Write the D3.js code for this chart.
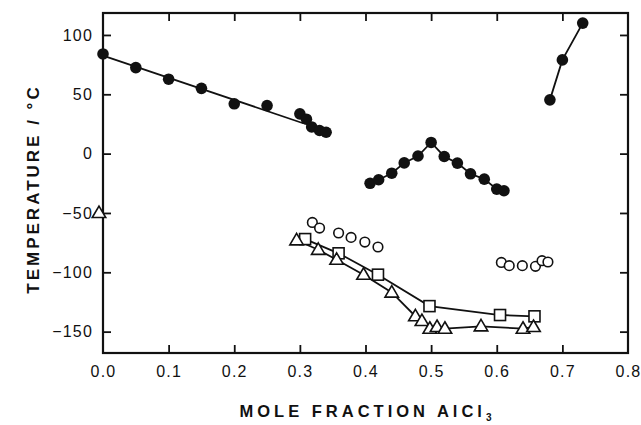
<!DOCTYPE html>
<html>
<head>
<meta charset="utf-8">
<script src="https://cdn.jsdelivr.net/npm/d3@7/dist/d3.min.js"></script>
<style>
  html, body { margin: 0; padding: 0; background: #fff; }
  svg { display: block; }
</style>
</head>
<body>
<svg id="chart" width="641" height="425"></svg>
<script>
// ---- data ----
const xTicks = [0.0, 0.1, 0.2, 0.3, 0.4, 0.5, 0.6, 0.7, 0.8];
const yTicks = [100, 50, 0, -50, -100, -150];

// filled circles, low-x branch (with fitted straight line)
const solidA_x = [0.0, 0.05, 0.10, 0.15, 0.20, 0.25, 0.30, 0.31, 0.318, 0.33, 0.34];
const solidA_y = [84, 72.5, 62.7, 55, 42, 40.5, 33.5, 29, 22.5, 19.5, 18];
const fitA_x = [0.0, 0.305];
const fitA_y = [82.6, 25.6];

// filled circles, middle (peaked) branch, connected
const solidB_x = [0.407, 0.42, 0.44, 0.459, 0.48, 0.50, 0.52, 0.54, 0.56, 0.581, 0.60, 0.611];
const solidB_y = [-25, -22, -16.5, -7.8, -2, 9.4, -2.4, -8, -17, -21.5, -29.9, -31.3];

// filled circles, high-x branch, connected
const solidC_x = [0.681, 0.70, 0.731];
const solidC_y = [45.3, 79, 110];

// open circles (not connected)
const openCirc_x = [0.319, 0.33, 0.359, 0.378, 0.399, 0.419, 0.607, 0.619, 0.639, 0.659, 0.669, 0.678];
const openCirc_y = [-58, -62.7, -66.9, -70.6, -74.5, -78.7, -91.7, -94.4, -94.4, -95, -90.2, -91.3];

// open squares, connected
const square_x = [0.308, 0.359, 0.419, 0.4975, 0.605, 0.6575];
const square_y = [-72, -84, -102, -128.5, -136, -137.1];

// open triangles, connected
const tri_x = [0.295, 0.328, 0.356, 0.397, 0.44, 0.476, 0.486, 0.498, 0.509, 0.521, 0.576, 0.64, 0.656];
const tri_y = [-73, -81, -89.4, -102, -117, -137, -141, -147.5, -146, -147.5, -145.5, -147.5, -146];

// isolated open triangle on the axis
const triSingle_x = [0.0];
const triSingle_y = [-50];

// ---- drawing ----
const svg = d3.select("#chart");
const L = 103, R = 628, T = 13, B = 353;
const x = d3.scaleLinear().domain([0, 0.8]).range([L, R]);
const y = d3.scaleLinear().domain([-168, 118.5]).range([B, T]);
const ink = "#111";
const font = "'Liberation Sans', Arial, Helvetica, sans-serif";

const zip = (xs, ys) => xs.map((v, i) => [v, ys[i]]);
const line = d3.line().x(d => x(d[0])).y(d => y(d[1]));

// axes (ticks pointing inward)
const gB = svg.append("g").attr("transform", `translate(0,${B})`)
  .call(d3.axisBottom(x).tickValues(xTicks).tickSize(-8).tickSizeOuter(0).tickPadding(13).tickFormat(d3.format(".1f")));
const gT = svg.append("g").attr("transform", `translate(0,${T})`)
  .call(d3.axisTop(x).tickValues(xTicks.slice(1, -1)).tickSize(-8).tickSizeOuter(0).tickFormat(""));
const gL = svg.append("g").attr("transform", `translate(${L},0)`)
  .call(d3.axisLeft(y).tickValues(yTicks).tickSize(-8).tickSizeOuter(0).tickPadding(10));
const gR = svg.append("g").attr("transform", `translate(${R},0)`)
  .call(d3.axisRight(y).tickValues(yTicks).tickSize(-8).tickSizeOuter(0).tickFormat(""));
gB.selectAll(".tick line").filter(d => d === 0 || d === 0.8).remove();
[gB, gT, gL, gR].forEach(g => {
  g.select(".domain").remove();
  g.selectAll(".tick line").attr("stroke", ink).attr("stroke-width", 1.8);
  g.selectAll(".tick text").attr("fill", ink).attr("font-family", font).attr("font-size", 16)
    .attr("letter-spacing", 1.2);
});
gL.selectAll(".tick text").text(d => d < 0 ? "\u2212" + Math.abs(d) : d);

// frame
svg.append("rect").attr("x", L).attr("y", T).attr("width", R - L).attr("height", B - T)
  .attr("fill", "none").attr("stroke", ink).attr("stroke-width", 2.2);

// lines
const lineStyle = sel => sel.attr("fill", "none").attr("stroke", ink).attr("stroke-width", 1.8);
svg.append("path").datum(zip(fitA_x, fitA_y)).attr("d", line).call(lineStyle);
svg.append("path").datum(zip(solidB_x, solidB_y)).attr("d", line).call(lineStyle);
svg.append("path").datum(zip(solidC_x, solidC_y)).attr("d", line).call(lineStyle);
svg.append("path").datum(zip(tri_x, tri_y)).attr("d", line).call(lineStyle);
svg.append("path").datum(zip(square_x, square_y)).attr("d", line).call(lineStyle);

// markers
const filled = zip(solidA_x, solidA_y).concat(zip(solidB_x, solidB_y), zip(solidC_x, solidC_y));
svg.append("g").selectAll("circle").data(filled).join("circle")
  .attr("cx", d => x(d[0])).attr("cy", d => y(d[1])).attr("r", 5.8).attr("fill", ink);

svg.append("g").selectAll("circle").data(zip(openCirc_x, openCirc_y)).join("circle")
  .attr("cx", d => x(d[0])).attr("cy", d => y(d[1])).attr("r", 4.8)
  .attr("fill", "#fff").attr("stroke", ink).attr("stroke-width", 1.6);

const sq = 11;
svg.append("g").selectAll("rect").data(zip(square_x, square_y)).join("rect")
  .attr("x", d => x(d[0]) - sq / 2).attr("y", d => y(d[1]) - sq / 2)
  .attr("width", sq).attr("height", sq)
  .attr("fill", "#fff").attr("stroke", ink).attr("stroke-width", 1.6);

const triPath = (cx, cy) => {
  const h = 11.5, w = 13.5;
  return `M${cx},${cy - h * 0.6}L${cx + w / 2},${cy + h * 0.4}L${cx - w / 2},${cy + h * 0.4}Z`;
};
svg.append("g").selectAll("path").data(zip(tri_x, tri_y).concat(zip(triSingle_x, triSingle_y))).join("path")
  .attr("d", d => triPath(x(d[0]) - (d[0] === 0 ? 4 : 0), y(d[1])))
  .attr("fill", "#fff").attr("stroke", ink).attr("stroke-width", 1.6);

// axis titles
svg.append("text")
  .attr("x", (L + R) / 2 + 2).attr("y", 417).attr("text-anchor", "middle")
  .attr("font-family", font).attr("font-weight", "bold").attr("font-size", 16.5)
  .attr("letter-spacing", 4).attr("fill", ink)
  .call(t => {
    t.append("tspan").text("MOLE FRACTION AlCl");
    t.append("tspan").text("3").attr("font-size", 10).attr("dy", 4);
  });

svg.append("text")
  .attr("transform", `translate(39,${(T + B) / 2 + 6}) rotate(-90)`)
  .attr("text-anchor", "middle")
  .attr("font-family", font).attr("font-weight", "bold").attr("font-size", 17)
  .attr("letter-spacing", 3).attr("fill", ink)
  .text("TEMPERATURE / \u00B0C");
</script>
</body>
</html>
